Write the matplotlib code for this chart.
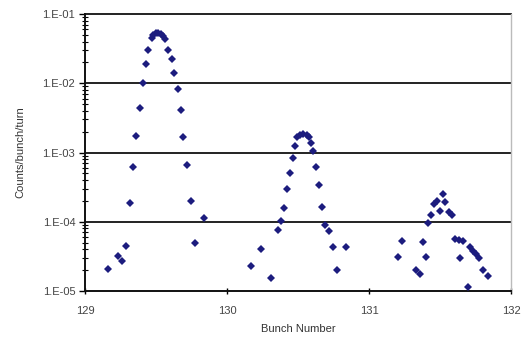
import numpy as np
import matplotlib.pyplot as plt
from matplotlib.ticker import LogLocator, FixedLocator, NullFormatter

# bunch number / counts per bunch per turn
bunch_1 = [129.164, 129.235, 129.263, 129.289, 129.315, 129.340, 129.359, 129.388,
           129.407, 129.428, 129.446, 129.470, 129.481, 129.498, 129.517, 129.533,
           129.550, 129.564, 129.587, 129.611, 129.629, 129.653, 129.674, 129.693,
           129.721, 129.747, 129.775, 129.841]
counts_1 = [2.06e-5, 3.24e-5, 2.71e-5, 4.51e-5, 1.85e-4, 6.11e-4, 1.73e-3, 4.35e-3,
            9.98e-3, 1.88e-2, 3.02e-2, 4.46e-2, 4.97e-2, 5.26e-2, 5.37e-2, 5.14e-2,
            4.81e-2, 4.31e-2, 3.02e-2, 2.22e-2, 1.42e-2, 8.26e-3, 4.11e-3, 1.69e-3,
            6.53e-4, 2.01e-4, 4.89e-5, 1.12e-4]

bunch_2 = [130.168, 130.238, 130.311, 130.362, 130.381, 130.402, 130.424, 130.443,
           130.464, 130.480, 130.496, 130.515, 130.538, 130.562, 130.579, 130.593,
           130.609, 130.628, 130.649, 130.672, 130.691, 130.715, 130.746, 130.774,
           130.839]
counts_2 = [2.32e-5, 4.08e-5, 1.56e-5, 7.53e-5, 1.04e-4, 1.56e-4, 3.00e-4, 5.11e-4,
            8.41e-4, 1.24e-3, 1.66e-3, 1.79e-3, 1.85e-3, 1.79e-3, 1.66e-3, 1.36e-3,
            1.06e-3, 6.24e-4, 3.36e-4, 1.62e-4, 8.97e-5, 7.35e-5, 4.36e-5, 2.01e-5,
            4.28e-5]

bunch_3 = [131.201, 131.232, 131.333, 131.361, 131.380, 131.401, 131.419, 131.438,
           131.459, 131.478, 131.502, 131.518, 131.537, 131.567, 131.588, 131.603,
           131.631, 131.643, 131.662, 131.694, 131.713, 131.736, 131.755, 131.772,
           131.803, 131.835]
counts_3 = [3.13e-5, 5.32e-5, 2.01e-5, 1.74e-5, 5.05e-5, 3.13e-5, 9.69e-5, 1.25e-4,
            1.80e-4, 2.01e-4, 1.45e-4, 2.52e-4, 1.95e-4, 1.40e-4, 1.25e-4, 5.64e-5,
            5.45e-5, 2.97e-5, 5.32e-5, 1.13e-5, 4.36e-5, 3.82e-5, 3.42e-5, 2.97e-5,
            2.01e-5, 1.66e-5]

x_ticks = [129, 130, 131, 132]
y_ticks = [1e-5, 1e-4, 1e-3, 1e-2, 1e-1]
y_labels = ["1.E-05", "1.E-04", "1.E-03", "1.E-02", "1.E-01"]

plt.rcParams['font.family'] = ['Liberation Sans', 'DejaVu Sans']

fig = plt.figure(figsize=(5.27, 3.44), dpi=100)
ax = fig.add_axes([0.1613, 0.154, 0.8083, 0.8053])

x = np.concatenate([bunch_1, bunch_2, bunch_3])
y = np.concatenate([counts_1, counts_2, counts_3])
ax.plot(x, y, linestyle='none', marker='D', markersize=3.7,
        color='#1c1c7e', markeredgewidth=0, zorder=3)

ax.set_yscale('log')
ax.set_xlim(129, 132)
ax.set_ylim(1e-5, 1e-1)

# decade gridlines, Excel style
for v in y_ticks[1:]:
    ax.axhline(v, color='#222222', lw=1.4, zorder=2, clip_on=False)

ax.yaxis.set_major_locator(FixedLocator(y_ticks))
ax.set_yticklabels(y_labels)
ax.yaxis.set_minor_locator(LogLocator(base=10, subs=np.arange(2, 10)))
ax.yaxis.set_minor_formatter(NullFormatter())
ax.set_xticks(x_ticks)
ax.set_xticklabels([str(t) for t in x_ticks])

ax.tick_params(axis='y', which='major', direction='out', length=4, width=1,
               labelsize=8, labelcolor='#444444', pad=3)
ax.tick_params(axis='y', which='minor', direction='inout', length=4, width=0.8)
ax.tick_params(axis='x', which='major', direction='inout', length=5, width=1,
               labelsize=8, labelcolor='#444444', pad=8)

for side in ['left', 'bottom']:
    ax.spines[side].set_color('#111111')
    ax.spines[side].set_linewidth(1.4)
ax.spines['top'].set_visible(False)
ax.spines['right'].set_color('#bbbbbb')
ax.spines['right'].set_linewidth(1)

ax.set_xlabel('Bunch Number', fontsize=8, color='#333333', labelpad=6)
ax.set_ylabel('Counts/bunch/turn', fontsize=8, color='#333333', labelpad=12)

fig.savefig('out.png', dpi=100)
